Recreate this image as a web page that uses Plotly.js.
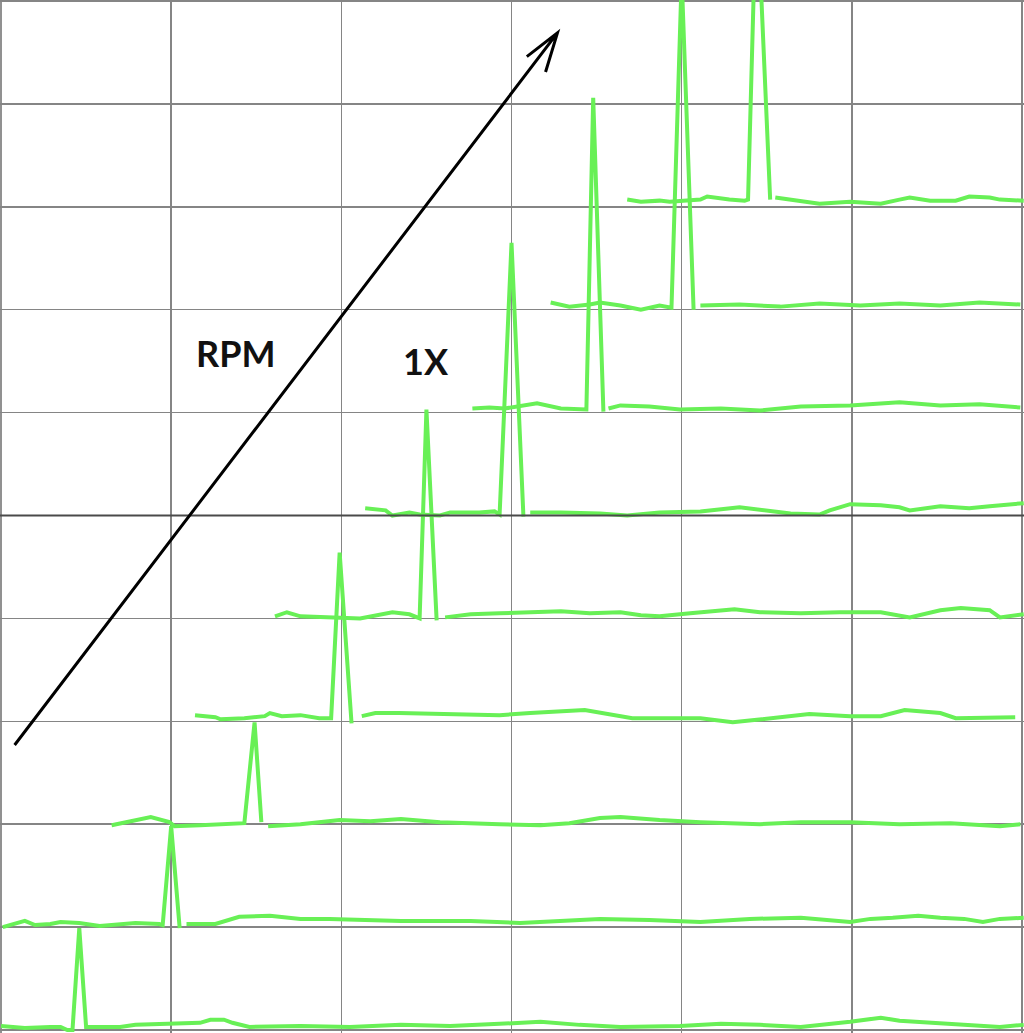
<!DOCTYPE html>
<html>
<head>
<meta charset="utf-8">
<script src="https://cdn.plot.ly/plotly-3.0.1.min.js"></script>
<style>html,body{margin:0;padding:0;background:#fff;}#chart{width:1024px;height:1033px;}</style>
</head>
<body>
<div id="chart"></div>
<script>
// Waterfall spectra (frequency in grid units, amplitude offset per RPM step)
const t1x = [0, 0.14, 0.29, 0.35, 0.39, 0.42, 0.46, 0.50, 0.51, 0.70, 0.79, 0.99, 1.17, 1.23, 1.31, 1.36, 1.46, 1.76, 2.05, 2.35, 2.64, 2.93, 3.17, 3.40, 3.64, 3.99, 4.23, 4.46, 4.70, 4.99, 5.17, 5.28, 5.58, 5.87, 6.01];
const t1y = [0.04, 0.02, 0.03, 0.03, 0.00, 0.00, 0.99, 0.03, 0.03, 0.03, 0.05, 0.06, 0.07, 0.10, 0.10, 0.07, 0.03, 0.04, 0.03, 0.05, 0.04, 0.06, 0.08, 0.05, 0.03, 0.04, 0.06, 0.05, 0.03, 0.08, 0.12, 0.09, 0.06, 0.03, 0.05];

const t2x = [0.01, 0.14, 0.20, 0.29, 0.35, 0.46, 0.58, 0.73, 0.79, 0.93, 0.95, 1.00, 1.05, null, 1.09, 1.26, 1.40, 1.58, 1.76, 1.93, 2.35, 2.76, 3.05, 3.29, 3.52, 3.81, 4.11, 4.40, 4.70, 4.99, 5.11, 5.24, 5.39, 5.52, 5.66, 5.77, 5.87, 6.01];
const t2y = [1.00, 1.06, 1.02, 1.03, 1.05, 1.04, 1.01, 1.03, 1.04, 1.03, 1.02, 1.98, 0.99, null, 1.03, 1.03, 1.10, 1.11, 1.08, 1.08, 1.06, 1.06, 1.04, 1.06, 1.08, 1.07, 1.05, 1.08, 1.09, 1.05, 1.08, 1.09, 1.11, 1.09, 1.08, 1.05, 1.08, 1.09];

const t3x = [0.65, 0.73, 0.88, 0.99, 1.02, 1.17, 1.40, 1.43, 1.49, 1.53, null, 1.57, 1.76, 1.99, 2.17, 2.35, 2.58, 2.93, 3.17, 3.34, 3.52, 3.64, 3.87, 4.11, 4.46, 4.70, 4.99, 5.28, 5.58, 5.87, 5.99];
const t3y = [1.99, 2.02, 2.07, 2.02, 1.98, 1.99, 2.01, 2.01, 2.99, 2.02, null, 1.98, 2.00, 2.04, 2.03, 2.05, 2.02, 2.00, 1.99, 2.01, 2.06, 2.07, 2.04, 2.02, 2.00, 2.02, 2.02, 2.00, 2.01, 1.98, 2.00];

const t4x = [1.14, 1.26, 1.29, 1.43, 1.55, 1.58, 1.65, 1.76, 1.87, 1.94, 1.99, 2.06, null, 2.12, 2.20, 2.34, 2.64, 2.93, 3.11, 3.43, 3.71, 4.11, 4.30, 4.64, 4.75, 4.99, 5.17, 5.31, 5.52, 5.61, 5.87, 5.96];
const t4y = [3.06, 3.04, 3.02, 3.03, 3.05, 3.08, 3.05, 3.06, 3.03, 3.03, 4.64, 2.98, null, 3.05, 3.08, 3.08, 3.07, 3.06, 3.08, 3.11, 3.03, 3.03, 2.99, 3.05, 3.07, 3.05, 3.05, 3.11, 3.08, 3.03, 3.04, 3.04];

const t5x = [1.61, 1.68, 1.76, 1.93, 2.11, 2.30, 2.40, 2.46, 2.50, 2.56, null, 2.61, 2.76, 2.93, 3.11, 3.29, 3.46, 3.64, 3.76, 3.87, 4.05, 4.31, 4.46, 4.70, 4.93, 5.17, 5.34, 5.52, 5.64, 5.81, 5.87, 6.01];
const t5y = [4.02, 4.06, 4.02, 4.01, 4.00, 4.06, 4.04, 4.00, 6.03, 3.98, null, 4.01, 4.04, 4.05, 4.06, 4.07, 4.05, 4.06, 4.03, 4.02, 4.05, 4.09, 4.06, 4.05, 4.06, 4.06, 4.01, 4.08, 4.10, 4.08, 4.01, 4.04];

const t6x = [2.14, 2.26, 2.30, 2.40, 2.46, 2.58, 2.64, 2.81, 2.90, 2.93, 3.00, 3.07, null, 3.11, 3.29, 3.52, 3.68, 3.87, 4.11, 4.34, 4.52, 4.64, 4.81, 4.87, 4.99, 5.17, 5.28, 5.34, 5.52, 5.69, 5.81, 6.01];
const t6y = [5.07, 5.05, 5.00, 5.03, 5.01, 5.00, 5.03, 5.03, 5.04, 5.01, 7.65, 4.99, null, 5.03, 5.03, 5.02, 5.00, 5.03, 5.04, 5.08, 5.04, 5.02, 5.01, 5.05, 5.11, 5.10, 5.08, 5.05, 5.09, 5.07, 5.09, 5.12];

const t7x = [2.77, 2.87, 2.96, 3.15, 3.29, 3.40, 3.44, 3.48, 3.54, null, 3.57, 3.64, 3.81, 3.99, 4.23, 4.46, 4.70, 4.99, 5.28, 5.52, 5.75, 5.99];
const t7y = [6.04, 6.05, 6.04, 6.09, 6.04, 6.03, 6.03, 9.06, 6.01, null, 6.04, 6.07, 6.06, 6.03, 6.04, 6.02, 6.06, 6.07, 6.10, 6.07, 6.08, 6.05];

const t8x = [3.23, 3.34, 3.46, 3.52, 3.64, 3.76, 3.87, 3.94, 4.00, 4.07, null, 4.11, 4.34, 4.58, 4.81, 5.05, 5.28, 5.52, 5.75, 5.99];
const t8y = [7.07, 7.03, 7.05, 7.07, 7.04, 7.00, 7.04, 7.02, 10.23, 7.00, null, 7.04, 7.05, 7.03, 7.06, 7.04, 7.06, 7.04, 7.07, 7.05];

const t9x = [3.68, 3.76, 3.87, 3.93, 4.11, 4.15, 4.28, 4.37, 4.39, 4.44, 4.52, null, 4.55, 4.70, 4.81, 4.99, 5.17, 5.28, 5.34, 5.46, 5.61, 5.69, 5.81, 5.87, 6.01];
const t9y = [8.07, 8.05, 8.06, 8.05, 8.07, 8.10, 8.07, 8.06, 8.07, 11.10, 8.07, null, 8.09, 8.05, 8.03, 8.05, 8.03, 8.07, 8.09, 8.06, 8.06, 8.10, 8.09, 8.07, 8.06];

const seriesX = [t1x, t2x, t3x, t4x, t5x, t6x, t7x, t8x, t9x];
const seriesY = [t1y, t2y, t3y, t4y, t5y, t6y, t7y, t8y, t9y];

// RPM arrow (start, tip, barbs) and labels
const arrowX = [0.08, 3.27, 3.09, 3.20];
const arrowY = [2.77, 9.69, 9.46, 9.31];
const labelText = ["RPM", "1X"];
const labelX = [1.38, 2.50];
const labelY = [6.58, 6.50];

const GREEN = "rgb(104,240,86)";
const GRID = "#858585";
const traces = seriesX.map((xs, i) => ({
  type: "scatter", mode: "lines", x: xs, y: seriesY[i],
  connectgaps: false, hoverinfo: "skip",
  line: { color: GREEN, width: 4 }
}));

const arrowPath = "M " + arrowX[0] + "," + arrowY[0] + " L " + arrowX[1] + "," + arrowY[1] +
  " M " + arrowX[2] + "," + arrowY[2] + " L " + arrowX[1] + "," + arrowY[1] + " L " + arrowX[3] + "," + arrowY[3];

const layout = {
  width: 1024, height: 1033,
  margin: { l: 0, r: 0, t: 0, b: 0, pad: 0 },
  paper_bgcolor: "#ffffff", plot_bgcolor: "#ffffff",
  showlegend: false,
  xaxis: { range: [-0.0059, 6.0116], tick0: 0, dtick: 1, showticklabels: false, ticks: "",
           showgrid: true, gridcolor: GRID, gridwidth: 1.5, zeroline: false, showline: false, fixedrange: true },
  yaxis: { range: [-0.029, 10.0097], tick0: 0, dtick: 1, showticklabels: false, ticks: "",
           showgrid: true, gridcolor: GRID, gridwidth: 1.5, zeroline: false, showline: false, fixedrange: true },
  shapes: [
    // edge grid lines (Plotly clips gridlines lying within 1px of the plot edge)
    { type: "line", xref: "x", yref: "paper", x0: 0, x1: 0, y0: 0, y1: 1, layer: "below",
      line: { color: GRID, width: 1.8 } },
    { type: "line", xref: "paper", yref: "y", x0: 0, x1: 1, y0: 10, y1: 10, layer: "below",
      line: { color: GRID, width: 1.8 } },
    { type: "line", xref: "paper", yref: "y", x0: 0, x1: 1, y0: 5, y1: 5, layer: "above",
      line: { color: "#4a4a4a", width: 2 } },
    { type: "path", xref: "x", yref: "y", path: arrowPath, layer: "above",
      line: { color: "#000000", width: 3 } }
  ],
  annotations: labelText.map((t, i) => ({
    text: "<b>" + t + "</b>", x: labelX[i], y: labelY[i], xref: "x", yref: "y",
    showarrow: false, xanchor: "center", yanchor: "middle",
    font: { family: "Lato, 'Liberation Sans', sans-serif", size: 36, color: "#111111" }
  }))
};

Plotly.newPlot("chart", traces, layout, { staticPlot: true, displayModeBar: false });
</script>
</body>
</html>
